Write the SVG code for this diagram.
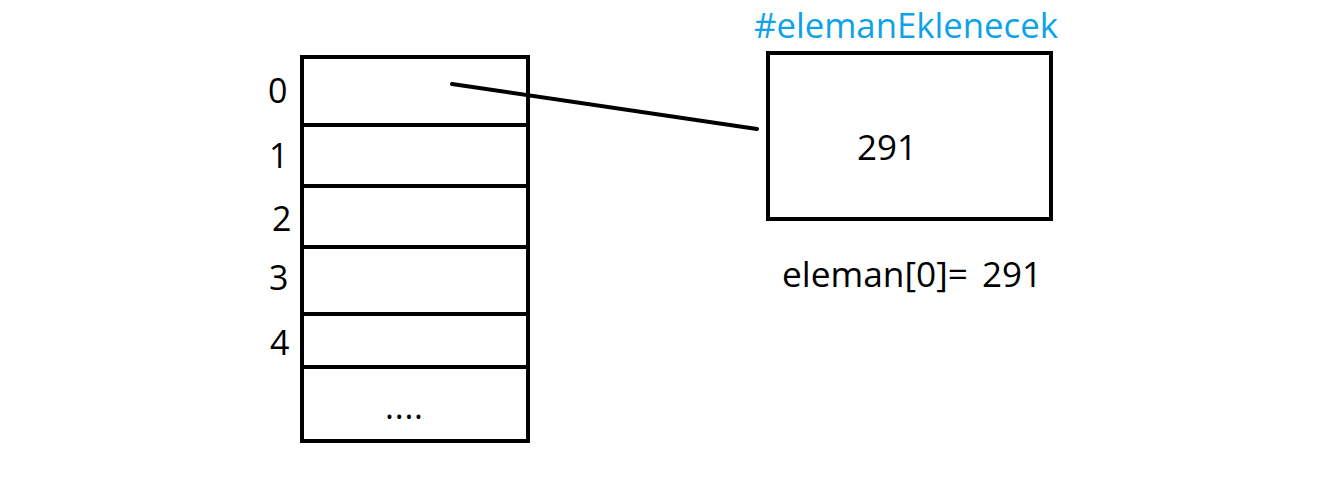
<svg xmlns="http://www.w3.org/2000/svg" width="1325" height="500" viewBox="0 0 1325 500">
<style>
.box{fill:none;stroke:#000;stroke-width:4}
.t{font-family:"Open Sans","Liberation Sans",sans-serif;font-size:34px;fill:#000}
.blue{fill:#0ea2e8}
</style>
<rect width="1325" height="500" fill="#fff"/>
<g id="array">
<rect class="box" x="302" y="57" width="226" height="384"/>
<line class="box" x1="302" y1="125" x2="528" y2="125"/>
<line class="box" x1="302" y1="186" x2="528" y2="186"/>
<line class="box" x1="302" y1="247" x2="528" y2="247"/>
<line class="box" x1="302" y1="314" x2="528" y2="314"/>
<line class="box" x1="302" y1="367" x2="528" y2="367"/>
<text class="t" x="385" y="419" textLength="38" lengthAdjust="spacing">....</text>
</g>
<g id="indices">
<text class="t" x="268" y="103">0</text>
<text class="t" x="269" y="168">1</text>
<text class="t" x="272" y="231">2</text>
<text class="t" x="269" y="290">3</text>
<text class="t" x="270" y="355">4</text>
</g>
<g id="node">
<text class="t blue" x="754" y="38" textLength="304" lengthAdjust="spacingAndGlyphs">#elemanEklenecek</text>
<rect class="box" x="768" y="53" width="283" height="166"/>
<text class="t" x="857" y="160" textLength="60" lengthAdjust="spacingAndGlyphs">291</text>
<text class="t" x="782" y="287" textLength="186" lengthAdjust="spacingAndGlyphs">eleman[0]=</text>
<text class="t" x="982" y="287" textLength="60" lengthAdjust="spacingAndGlyphs">291</text>
</g>
<g id="connectors">
<line x1="452" y1="84" x2="757" y2="129" stroke="#000" stroke-width="4" stroke-linecap="round"/>
</g>
</svg>
